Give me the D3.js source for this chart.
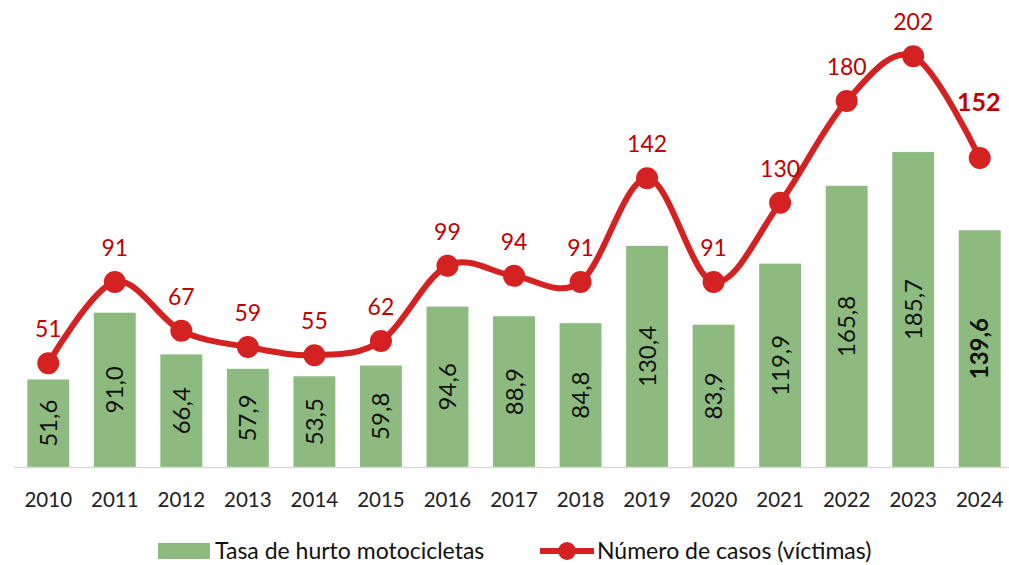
<!DOCTYPE html>
<html>
<head>
<meta charset="utf-8">
<script src="https://cdn.jsdelivr.net/npm/d3@7"></script>
<style>
  body { margin: 0; background: #fff; }
  text { font-family: Lato, "Open Sans", sans-serif; }
</style>
</head>
<body>
<svg id="chart" width="1009" height="565"></svg>
<script>
// chart data
var years = ["2010","2011","2012","2013","2014","2015","2016","2017","2018","2019","2020","2021","2022","2023","2024"];
var tasa = [51.6, 91.0, 66.4, 57.9, 53.5, 59.8, 94.6, 88.9, 84.8, 130.4, 83.9, 119.9, 165.8, 185.7, 139.6];
var casos = [51, 91, 67, 59, 55, 62, 99, 94, 91, 142, 91, 130, 180, 202, 152];
var legendNames = ["Tasa de hurto motocicletas", "Número de casos (víctimas)"];

var green = "#8dbb7f", red = "#d42222", labelRed = "#c00000";
var svg = d3.select("#chart");

var x = d3.scaleBand().domain(years).range([15, 1013]).paddingInner(0.37).paddingOuter(0.185);
var yBar = d3.scaleLinear().domain([0, 250]).range([467, 43]);
var yLine = d3.scaleLinear().domain([0, 210]).range([467, 40]);

var fmt = function(v){ return v.toFixed(1).replace(".", ","); };
var last = years.length - 1;

// bars
svg.selectAll("rect.bar").data(tasa).enter().append("rect")
  .attr("class","bar")
  .attr("x", function(d,i){ return x(years[i]); })
  .attr("y", function(d){ return yBar(d); })
  .attr("width", x.bandwidth())
  .attr("height", function(d){ return yBar(0) - yBar(d); })
  .attr("fill", green);

// axis line
svg.append("line").attr("x1", 14).attr("x2", 1009).attr("y1", 467.5).attr("y2", 467.5)
  .attr("stroke", "#d9d9d9").attr("stroke-width", 1.5);

// bar labels, rotated
svg.selectAll("text.barlab").data(tasa).enter().append("text")
  .attr("class","barlab")
  .attr("transform", function(d,i){
    var cx = x(years[i]) + x.bandwidth()/2;
    var cy = (yBar(d) + yBar(0)) / 2;
    return "translate(" + (cx + 8.5) + "," + cy + ") rotate(-90)";
  })
  .attr("text-anchor","middle")
  .attr("font-size", 24)
  .attr("font-weight", function(d,i){ return i == last ? "bold" : "normal"; })
  .attr("fill", "#111")
  .text(function(d){ return fmt(d); });

// x tick labels
svg.selectAll("text.tick").data(years).enter().append("text")
  .attr("class","tick")
  .attr("x", function(d){ return x(d) + x.bandwidth()/2; })
  .attr("y", 507)
  .attr("text-anchor","middle")
  .attr("font-size", 20.5)
  .attr("fill", "#222")
  .text(function(d){ return d; });

// line
var line = d3.line()
  .x(function(d,i){ return x(years[i]) + x.bandwidth()/2; })
  .y(function(d){ return yLine(d); })
  .curve(d3.curveCardinal.tension(0));

svg.append("path").datum(casos)
  .attr("d", line)
  .attr("fill","none")
  .attr("stroke", red)
  .attr("stroke-width", 6);

svg.selectAll("circle.pt").data(casos).enter().append("circle")
  .attr("class","pt")
  .attr("cx", function(d,i){ return x(years[i]) + x.bandwidth()/2; })
  .attr("cy", function(d){ return yLine(d); })
  .attr("r", 11)
  .attr("fill", red);

// line value labels
svg.selectAll("text.ptlab").data(casos).enter().append("text")
  .attr("class","ptlab")
  .attr("x", function(d,i){ return x(years[i]) + x.bandwidth()/2 + (i == last ? -1 : 0); })
  .attr("y", function(d,i){ return yLine(d) - (i == last ? 47 : 26); })
  .attr("text-anchor","middle")
  .attr("font-size", function(d,i){ return i == last ? 25 : 23; })
  .attr("font-weight", function(d,i){ return i == last ? "bold" : "normal"; })
  .attr("fill", labelRed)
  .text(function(d){ return d; });

// legend
var lg = svg.append("g");
lg.append("rect").attr("x", 158).attr("y", 543).attr("width", 52).attr("height", 16).attr("fill", green);
lg.append("text").attr("x", 215).attr("y", 559).attr("font-size", 23).attr("fill", "#111").text(legendNames[0]);
lg.append("line").attr("x1", 540).attr("x2", 594).attr("y1", 551).attr("y2", 551)
  .attr("stroke", red).attr("stroke-width", 6);
lg.append("circle").attr("cx", 567).attr("cy", 551).attr("r", 9).attr("fill", red);
lg.append("text").attr("x", 597).attr("y", 559).attr("font-size", 23).attr("fill", "#111").text(legendNames[1]);
</script>
</body>
</html>
